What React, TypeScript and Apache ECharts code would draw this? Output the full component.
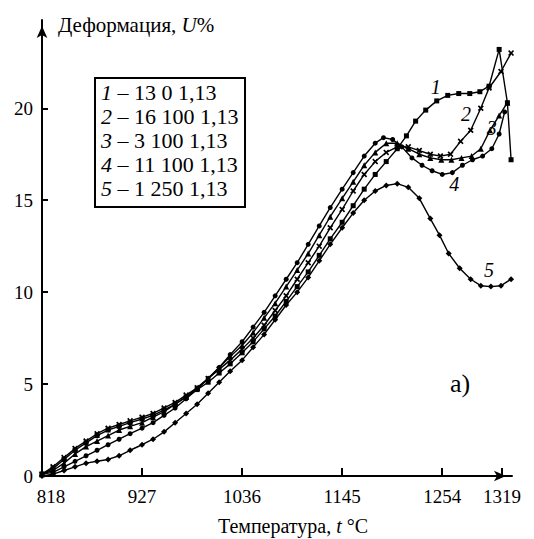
import React, { useEffect, useRef } from "react";
import * as echarts from "echarts";

const xTickValues = [818, 927, 1036, 1145, 1254, 1319];
const yTickValues = [0, 5, 10, 15, 20];
const curveNames = ["1", "2", "3", "4", "5"];
const legendTexts = ["13 0 1,13", "16 100 1,13", "3 100 1,13", "11 100 1,13", "1 250 1,13"];

const curve1 = [[818,0.1],[830,0.4],[842,0.9],[854,1.4],[866,1.8],[878,2.2],[890,2.5],[902,2.7],[914,2.9],[927,3.1],[939,3.3],[951,3.6],[963,3.9],[975,4.3],[987,4.7],[999,5.1],[1011,5.6],[1023,6.1],[1036,6.7],[1048,7.3],[1060,8.0],[1072,8.7],[1084,9.5],[1096,10.3],[1108,11.1],[1120,12.0],[1132,12.9],[1145,13.8],[1157,14.7],[1169,15.6],[1181,16.4],[1193,17.1],[1205,17.8],[1215,18.5],[1225,19.3],[1236,19.9],[1248,20.4],[1260,20.7],[1272,20.8],[1284,20.8],[1295,20.9],[1305,21.2],[1316,23.2],[1325,20.3],[1329,17.2]];
const curve2 = [[818,0.1],[830,0.5],[842,1.0],[854,1.5],[866,1.9],[878,2.3],[890,2.6],[902,2.8],[914,3.0],[927,3.2],[939,3.4],[951,3.7],[963,4.0],[975,4.4],[987,4.8],[999,5.3],[1011,5.8],[1023,6.3],[1036,6.9],[1048,7.5],[1060,8.2],[1072,9.0],[1084,9.8],[1096,10.7],[1108,11.6],[1120,12.5],[1132,13.5],[1145,14.5],[1157,15.5],[1169,16.4],[1181,17.1],[1193,17.6],[1205,17.9],[1217,17.9],[1229,17.7],[1241,17.5],[1252,17.4],[1263,17.5],[1274,18.2],[1285,18.8],[1296,20.0],[1305,21.1],[1318,22.0],[1329,23.0]];
const curve3 = [[818,0.1],[830,0.3],[842,0.7],[854,1.2],[866,1.6],[878,1.9],[890,2.2],[902,2.5],[914,2.7],[927,2.9],[939,3.2],[951,3.5],[963,3.9],[975,4.3],[987,4.8],[999,5.3],[1011,5.9],[1023,6.5],[1036,7.1],[1048,7.8],[1060,8.6],[1072,9.4],[1084,10.3],[1096,11.2],[1108,12.1],[1120,13.1],[1132,14.1],[1145,15.1],[1157,16.0],[1169,16.9],[1181,17.6],[1193,18.1],[1205,18.1],[1217,17.8],[1229,17.5],[1241,17.3],[1253,17.2],[1264,17.2],[1275,17.3],[1286,17.4],[1296,17.8],[1306,18.8],[1316,19.6],[1325,20.3]];
const curve4 = [[818,0.1],[830,0.2],[842,0.5],[854,0.8],[866,1.1],[878,1.4],[890,1.7],[902,2.0],[914,2.3],[927,2.6],[939,2.9],[951,3.3],[963,3.7],[975,4.2],[987,4.7],[999,5.3],[1011,5.9],[1023,6.6],[1036,7.3],[1048,8.1],[1060,8.9],[1072,9.8],[1084,10.7],[1096,11.6],[1108,12.6],[1120,13.6],[1132,14.6],[1145,15.6],[1157,16.5],[1169,17.4],[1181,18.1],[1190,18.4],[1200,18.3],[1210,17.9],[1221,17.3],[1232,16.9],[1243,16.6],[1254,16.4],[1265,16.5],[1276,16.9],[1287,17.2],[1298,17.4],[1308,17.8],[1316,18.6],[1322,19.8]];
const curve5 = [[818,0.0],[830,0.1],[842,0.3],[854,0.5],[866,0.7],[878,0.8],[890,0.9],[902,1.1],[914,1.4],[927,1.7],[939,2.0],[951,2.4],[963,2.9],[975,3.4],[987,3.9],[999,4.5],[1011,5.1],[1023,5.7],[1036,6.3],[1048,7.0],[1060,7.7],[1072,8.5],[1084,9.3],[1096,10.0],[1108,10.8],[1120,11.7],[1132,12.6],[1145,13.5],[1157,14.3],[1169,15.0],[1181,15.5],[1193,15.8],[1205,15.9],[1217,15.7],[1229,15.1],[1241,14.0],[1251,13.1],[1261,12.1],[1273,11.3],[1285,10.7],[1296,10.35],[1307,10.3],[1318,10.35],[1329,10.7]];

const curves = [curve1, curve2, curve3, curve4, curve5];
const curveLabelCoords = [[1247, 21.15], [1280, 19.7], [1308, 18.9], [1267, 15.9], [1305, 11.2]];

const crossPath = "path://M0,2L2,0L5,3L8,0L10,2L7,5L10,8L8,10L5,7L2,10L0,8L3,5Z";
const symbols = ["rect", crossPath, "triangle", "circle", "diamond"];
const symbolSizes = [5, 6, 6, 5, 6];

export default function App() {
  const ref = useRef<HTMLDivElement>(null);
  useEffect(() => {
    const chart = echarts.init(ref.current!, null, { renderer: "svg" });
    const serif = "Liberation Serif";
    const series: any[] = curves.map((data, i) => ({
      type: "line",
      data,
      symbol: symbols[i],
      symbolSize: symbolSizes[i],
      showSymbol: true,
      clip: false,
      lineStyle: { color: "#000", width: 1.4 },
      itemStyle: { color: "#000" },
      markPoint: {
        symbol: "circle",
        symbolSize: 1,
        itemStyle: { color: "rgba(0,0,0,0)" },
        label: {
          show: true,
          position: "inside",
          formatter: curveNames[i],
          fontStyle: "italic",
          fontSize: 20,
          fontFamily: serif,
          color: "#000",
        },
        data: [{ coord: curveLabelCoords[i] }],
      },
    }));

    const legendChildren: any[] = [
      {
        type: "rect",
        shape: { x: 0, y: 0, width: 150, height: 129 },
        style: { fill: "#fff", stroke: "#000", lineWidth: 2 },
      },
    ];
    curveNames.forEach((n, i) => {
      legendChildren.push({
        type: "text",
        x: 6,
        y: 14 + i * 24,
        style: {
          text: `{i|${n}} – ${legendTexts[i]}`,
          fontSize: 22,
          fontFamily: serif,
          fill: "#000",
          verticalAlign: "middle",
          rich: { i: { fontStyle: "italic", fontSize: 22, fontFamily: serif } },
        },
      });
    });

    chart.setOption({
      animation: false,
      backgroundColor: "#fff",
      textStyle: { fontFamily: serif },
      grid: { left: 42, right: 22, top: 20, bottom: 63 },
      xAxis: {
        type: "value",
        min: 818,
        max: 1330,
        splitLine: { show: false },
        axisLine: {
          show: true,
          lineStyle: { color: "#000", width: 2 },
          symbol: ["none", "arrow"],
          symbolSize: [8, 12],
          symbolOffset: [0, -6],
        },
        axisTick: {
          show: true,
          inside: true,
          length: 8,
          lineStyle: { color: "#000", width: 2 },
          customValues: xTickValues.slice(1),
        },
        axisLabel: {
          show: true,
          customValues: xTickValues,
          margin: 11,
          fontSize: 19,
          fontFamily: serif,
          color: "#000",
          formatter: (v: number) => (v === xTickValues[0] ? `{f|${v}}` : `${v}`),
          rich: { f: { padding: [0, 0, 0, 18], fontSize: 19, fontFamily: serif, color: "#000" } },
        },
      },
      yAxis: {
        type: "value",
        min: 0,
        max: 24.8,
        splitLine: { show: false },
        axisLine: {
          show: true,
          lineStyle: { color: "#000", width: 2 },
          symbol: ["none", "arrow"],
          symbolSize: [8, 12],
          symbolOffset: [0, -6],
        },
        axisTick: {
          show: true,
          inside: true,
          length: 6,
          lineStyle: { color: "#000", width: 2 },
          customValues: yTickValues.slice(1),
        },
        axisLabel: {
          show: true,
          customValues: yTickValues,
          margin: 9,
          fontSize: 19,
          fontFamily: serif,
          color: "#000",
        },
      },
      series,
      graphic: [
        {
          type: "text",
          x: 58,
          y: 25,
          style: {
            text: "Деформация, {i|U}%",
            fontSize: 21,
            fontFamily: serif,
            fill: "#000",
            verticalAlign: "middle",
            rich: { i: { fontStyle: "italic", fontSize: 21, fontFamily: serif } },
          },
        },
        {
          type: "text",
          x: 293,
          y: 526,
          style: {
            text: "Температура, {i|t} °C",
            fontSize: 20,
            fontFamily: serif,
            fill: "#000",
            align: "center",
            verticalAlign: "middle",
            rich: { i: { fontStyle: "italic", fontSize: 20, fontFamily: serif } },
          },
        },
        {
          type: "text",
          x: 460,
          y: 383,
          style: {
            text: "a)",
            fontSize: 26,
            fontFamily: serif,
            fill: "#000",
            align: "center",
            verticalAlign: "middle",
          },
        },
        { type: "group", x: 95, y: 78, children: legendChildren },
      ],
    });
    return () => chart.dispose();
  }, []);
  return (
    <div
      ref={ref}
      style={{ position: "absolute", left: 0, top: 0, width: 534, height: 539, background: "#fff" }}
    />
  );
}
